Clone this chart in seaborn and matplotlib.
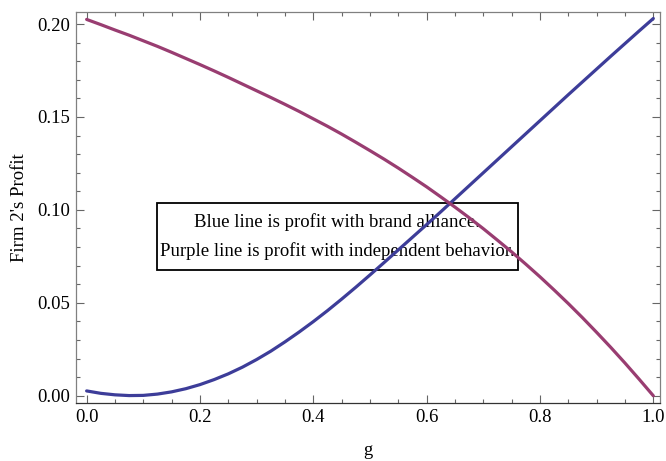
import numpy as np
import pandas as pd
import matplotlib
matplotlib.use('Agg')
import matplotlib.pyplot as plt
import seaborn as sns
from matplotlib.ticker import MultipleLocator
from matplotlib.patches import Rectangle

# Values (step 0.025 in g)
g_values = [0.000, 0.025, 0.050, 0.075, 0.100, 0.125, 0.150, 0.175, 0.200, 0.225,
            0.250, 0.275, 0.300, 0.325, 0.350, 0.375, 0.400, 0.425, 0.450, 0.475,
            0.500, 0.525, 0.550, 0.575, 0.600, 0.625, 0.650, 0.675, 0.700, 0.725,
            0.750, 0.775, 0.800, 0.825, 0.850, 0.875, 0.900, 0.925, 0.950, 0.975,
            1.000]
alliance_profit = [0.0026, 0.0013, 0.0005, 0.0001, 0.0002, 0.0009, 0.0021, 0.0038,
                   0.0060, 0.0087, 0.0118, 0.0154, 0.0195, 0.0240, 0.0290, 0.0343,
                   0.0399, 0.0458, 0.0520, 0.0584, 0.0650, 0.0717, 0.0785, 0.0853,
                   0.0921, 0.0990, 0.1060, 0.1130, 0.1200, 0.1270, 0.1340, 0.1410,
                   0.1480, 0.1550, 0.1620, 0.1689, 0.1758, 0.1827, 0.1895, 0.1963,
                   0.2030]
independent_profit = [0.2025, 0.1997, 0.1968, 0.1940, 0.1910, 0.1880, 0.1848, 0.1815,
                      0.1782, 0.1748, 0.1713, 0.1677, 0.1641, 0.1605, 0.1568, 0.1530,
                      0.1490, 0.1450, 0.1408, 0.1364, 0.1319, 0.1273, 0.1225, 0.1175,
                      0.1124, 0.1070, 0.1015, 0.0958, 0.0899, 0.0837, 0.0774, 0.0708,
                      0.0640, 0.0569, 0.0496, 0.0420, 0.0341, 0.0260, 0.0176, 0.0089,
                      0.0000]

x_ticks = [0.0, 0.2, 0.4, 0.6, 0.8, 1.0]
y_ticks = [0.00, 0.05, 0.10, 0.15, 0.20]

note = ("Blue line is profit with brand alliance.\n"
        "Purple line is profit with independent behavior.")

df = pd.DataFrame({
    'g': g_values * 2,
    'profit': alliance_profit + independent_profit,
    'series': ['alliance'] * len(g_values) + ['independent'] * len(g_values),
})

sns.set_theme(style='white')
plt.rcParams['font.family'] = ['Liberation Serif', 'DejaVu Serif']
plt.rcParams['text.color'] = 'black'
plt.rcParams['axes.labelcolor'] = 'black'

fig = plt.figure(figsize=(6.66, 4.61), dpi=100)
ax = fig.add_axes([0.114, 0.1258, 0.877, 0.8482])

sns.lineplot(data=df, x='g', y='profit', hue='series',
             palette={'alliance': '#3D3D99', 'independent': '#993D71'},
             linewidth=2.3, legend=False, ax=ax, zorder=3)

ax.set_xlim(-0.0189, 1.0118)
ax.set_ylim(-0.0039, 0.2065)
ax.set_xticks(x_ticks)
ax.set_xticklabels([f'{t:.1f}' for t in x_ticks])
ax.set_yticks(y_ticks)
ax.set_yticklabels([f'{t:.2f}' for t in y_ticks])
ax.xaxis.set_minor_locator(MultipleLocator(0.05))
ax.yaxis.set_minor_locator(MultipleLocator(0.01))

ax.tick_params(which='both', direction='in', top=True, right=True,
               bottom=True, left=True, colors='#666666', labelcolor='black',
               labelsize=13.5, width=0.8)
ax.tick_params(which='major', length=5.5, pad=4)
ax.tick_params(which='minor', length=3)

for side, spine in ax.spines.items():
    spine.set_visible(True)
    spine.set_linewidth(0.9)
    spine.set_color('#333333' if side == 'bottom' else '#808080')

ax.set_xlabel('g', fontsize=13.5, labelpad=12)
ax.set_ylabel("Firm 2's Profit", fontsize=13.5, labelpad=7)
ax.grid(False)

# note box: transparent, lines run over it
txt = ax.text(0.4426, 0.0856, note, ha='center', va='center', fontsize=13.5,
              multialignment='center', linespacing=1.75, zorder=2)
fig.canvas.draw()
bb = txt.get_window_extent(renderer=fig.canvas.get_renderer())
bb = bb.expanded((bb.width + 6) / bb.width, (bb.height + 21) / bb.height)
(x0, y0), (x1, y1) = ax.transAxes.inverted().transform([[bb.x0, bb.y0], [bb.x1, bb.y1]])
ax.add_patch(Rectangle((x0, y0), x1 - x0, y1 - y0, transform=ax.transAxes,
                       facecolor='none', edgecolor='black', linewidth=1.3, zorder=2))

plt.savefig('out.png', dpi=100)
